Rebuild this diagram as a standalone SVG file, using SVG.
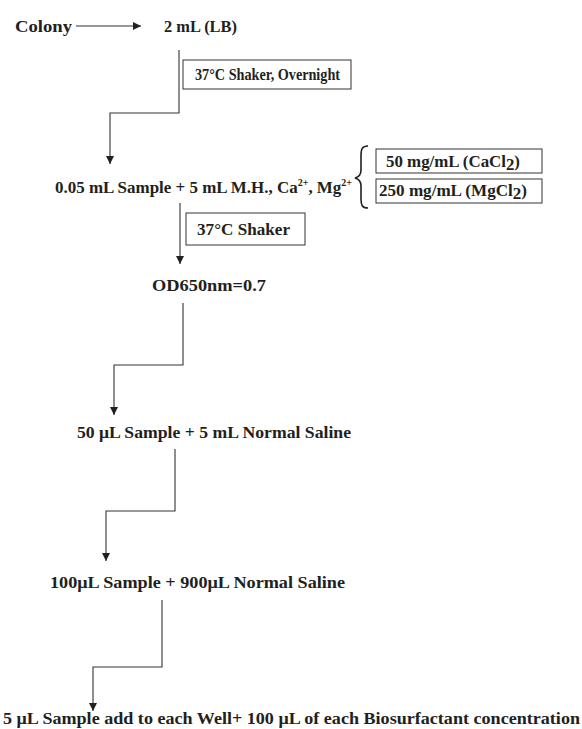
<svg xmlns="http://www.w3.org/2000/svg" width="582" height="729" viewBox="0 0 582 729">
<style>
text{font-family:"Liberation Serif","DejaVu Serif",serif;font-weight:bold;font-size:17px;fill:#231f20}
.ln{fill:none;stroke:#333;stroke-width:1.1}
.bx{fill:#fff;stroke:#333;stroke-width:1}
.br{fill:none;stroke:#231f20;stroke-width:1.6}
.sup{font-size:10px}
.sm{font-size:16px}
</style>
<defs>
<marker id="ah" markerWidth="8" markerHeight="8" refX="8" refY="4" orient="auto" markerUnits="userSpaceOnUse">
<path d="M0,0 L8,4 L0,8 Z" fill="#231f20"/>
</marker>
</defs>
<g id="connectors">
<path class="ln" d="M76,26 H141" marker-end="url(#ah)"/>
<path class="ln" d="M179,50 V113 H110 V164" marker-end="url(#ah)"/>
<path class="ln" d="M180,203 V264" marker-end="url(#ah)"/>
<path class="ln" d="M183,303 V365 H114 V415" marker-end="url(#ah)"/>
<path class="ln" d="M175,449 V511 H106 V561" marker-end="url(#ah)"/>
<path class="ln" d="M162,600 V667 H93 V711" marker-end="url(#ah)"/>
<path class="br" d="M368,146 C362,146 361,149 361,156 V170 C361,175 359,177 355,178 C359,179 361,181 361,186 V199 C361,205 362,208 368,208"/>
</g>
<g id="colony"><text x="15" y="32" textLength="57" lengthAdjust="spacingAndGlyphs">Colony</text></g>
<g id="lb"><text x="164" y="32" textLength="73" lengthAdjust="spacingAndGlyphs">2 mL (LB)</text></g>
<g id="shaker1"><rect class="bx" x="183" y="60" width="168" height="29"/><text class="sm" x="195" y="80" textLength="145" lengthAdjust="spacingAndGlyphs">37°C Shaker, Overnight</text></g>
<g id="sample1"><text x="55" y="193" textLength="297" lengthAdjust="spacingAndGlyphs">0.05 mL Sample + 5 mL M.H., Ca<tspan class="sup" dy="-7">2+</tspan><tspan dy="7">, Mg</tspan><tspan class="sup" dy="-7">2+</tspan></text></g>
<g id="cacl"><rect class="bx" x="376" y="149" width="166" height="24"/><text class="sm" x="386" y="167" textLength="134" lengthAdjust="spacingAndGlyphs">50 mg/mL (CaCl<tspan dy="3">2</tspan><tspan dy="-3">)</tspan></text></g>
<g id="mgcl"><rect class="bx" x="376" y="179" width="166" height="24"/><text class="sm" x="379" y="196" textLength="148" lengthAdjust="spacingAndGlyphs">250 mg/mL (MgCl<tspan dy="3">2</tspan><tspan dy="-3">)</tspan></text></g>
<g id="shaker2"><rect class="bx" x="186" y="213" width="119" height="32"/><text x="197" y="235" textLength="93" lengthAdjust="spacingAndGlyphs">37°C Shaker</text></g>
<g id="od"><text x="152" y="291" textLength="114" lengthAdjust="spacingAndGlyphs">OD650nm=0.7</text></g>
<g id="sample2"><text x="77" y="438" textLength="274" lengthAdjust="spacingAndGlyphs">50 μL Sample + 5 mL Normal Saline</text></g>
<g id="sample3"><text x="50" y="588" textLength="295" lengthAdjust="spacingAndGlyphs">100μL Sample + 900μL Normal Saline</text></g>
<g id="final"><text x="3" y="724" textLength="577" lengthAdjust="spacingAndGlyphs">5 μL Sample add to each Well+ 100 μL of each Biosurfactant concentration</text></g>
</svg>
